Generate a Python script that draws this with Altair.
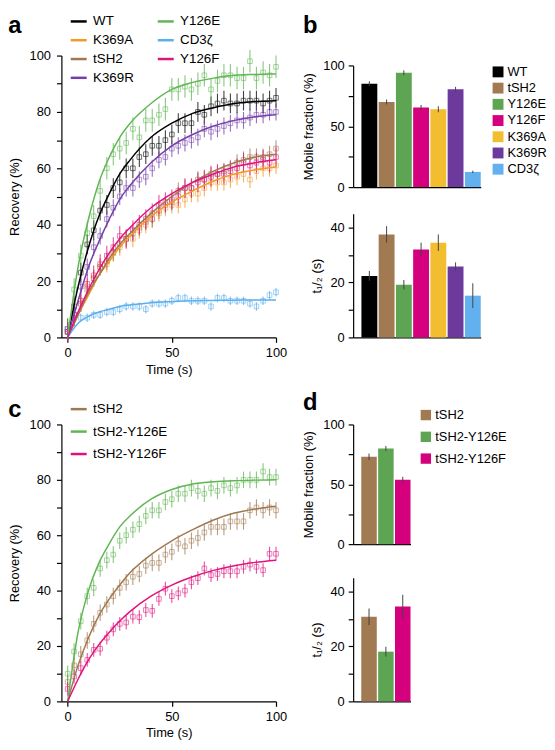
import altair as alt
import pandas as pd

FONT = "Liberation Sans"
FS = 13

# ---------------- shared time axis (s) ----------------
times = [0, 3.1, 6.3, 9.4, 12.5, 15.6, 18.8, 21.9, 25, 28.1, 31.3, 34.4, 37.5, 40.6,
         43.8, 46.9, 50, 53.1, 56.3, 59.4, 62.5, 65.6, 68.8, 71.9, 75, 78.1, 81.3,
         84.4, 87.5, 90.6, 93.8, 96.9, 100]
fit_times = [0, 5, 10, 15, 20, 25, 30, 40, 50, 60, 70, 80, 90, 100]

# ---------------- panel a ----------------
# legend fills column by column: WT, K369A, tSH2, K369R | Y126E, CD3ζ, Y126F
a_names = ["WT", "K369A", "tSH2", "K369R", "Y126E", "CD3ζ", "Y126F"]
a_colors = ["#000000", "#F39A26", "#A07850", "#7440A8", "#5FB652", "#5AAFEE", "#E0137E"]
a_points = {
    "WT":    [3, 11, 23, 33, 38, 45, 47, 53, 55, 60, 60, 64, 65, 68, 68, 70, 72, 76, 76, 76,
              80, 79, 82, 83, 84, 83, 83, 84, 84, 84, 83, 84, 85],
    "Y126E": [3, 17, 29, 37, 43, 52, 60, 65, 67, 69, 74, 71, 77, 77, 79, 81, 88, 88, 89, 88,
              90, 93, 88, 91, 93, 93, 92, 92, 98, 92, 94, 93, 96],
    "K369A": [2, 7, 12, 18, 21, 25, 26, 30, 32, 35, 35, 38, 40, 42, 44, 46, 47, 47, 49, 51,
              51, 53, 55, 55, 55, 56, 57, 58, 56, 59, 60, 60, 61],
    "CD3ζ":  [3, 8, 7, 7, 8, 8, 9, 9, 10, 11, 11, 11, 10, 12, 12, 12, 13, 14, 14, 13,
              13, 13, 11, 14, 14, 13, 13, 13, 12, 11, 13, 15, 16],
    "tSH2":  [2, 7, 12, 17, 21, 25, 27, 30, 33, 35, 37, 39, 41, 42, 45, 47, 48, 52, 53, 53,
              56, 56, 58, 58, 59, 60, 62, 63, 64, 64, 64, 65, 67],
    "Y126F": [2, 8, 13, 19, 22, 26, 29, 32, 36, 35, 38, 40, 42, 44, 47, 48, 49, 50, 53, 53,
              55, 56, 57, 58, 58, 59, 60, 62, 61, 62, 63, 62, 64],
    "K369R": [2, 8, 18, 25, 32, 36, 42, 46, 50, 53, 53, 56, 57, 60, 63, 64, 67, 68, 69, 70,
              71, 74, 73, 74, 75, 76, 77, 77, 78, 79, 79, 80, 80],
}
a_errs = {"WT": 3.5, "Y126E": 4, "K369A": 3, "CD3ζ": 1.5, "tSH2": 3, "Y126F": 3.5, "K369R": 3}
a_fits = {
    "WT":    [0, 18, 32, 43, 51, 58, 63, 71, 76, 79.5, 81.5, 83, 83.7, 84],
    "Y126E": [0, 25, 42, 55, 64, 71, 76, 83, 88, 90.5, 92, 93, 93.3, 93.5],
    "K369A": [0, 8, 15, 22, 27, 32, 36, 43, 48, 52, 55.5, 58, 59.5, 60.5],
    "CD3ζ":  [0, 5, 7.5, 9, 10, 11, 11.5, 12.3, 12.7, 13, 13.1, 13.2, 13.3, 13.3],
    "tSH2":  [0, 8, 16, 22, 28, 33, 37, 44, 50, 55, 59, 62, 64, 65],
    "Y126F": [0, 9, 17, 24, 30, 35, 39, 46, 51, 55, 58, 60.5, 62, 63],
    "K369R": [0, 13, 25, 34, 42, 49, 54, 62, 68, 72, 75, 77, 78.3, 79],
}

# ---------------- panel b ----------------
b_names = ["WT", "tSH2", "Y126E", "Y126F", "K369A", "K369R", "CD3ζ"]
b_colors = ["#000000", "#A17A52", "#5DA553", "#D4007E", "#F2BD2E", "#6C3A9C", "#62B0EE"]
b_mobile = [85, 70, 94, 65.5, 64, 80.4, 12.5]
b_mobile_err = [2, 2, 2, 2, 2.5, 2, 1]
b_thalf = [22.4, 37.5, 19.2, 32, 34.5, 25.8, 15.2]
b_thalf_err = [1.8, 3, 1.7, 2.5, 3, 1.5, 4.5]

# ---------------- panel c ----------------
c_names = ["tSH2", "tSH2-Y126E", "tSH2-Y126F"]
c_colors = ["#A07850", "#5FB652", "#E0137E"]
c_points = {
    "tSH2":       [7, 13, 17, 22, 28, 32, 35, 38, 41, 43, 45, 46, 49, 50, 50, 53, 54, 57, 56, 58,
                   59, 61, 63, 63, 63, 65, 65, 65, 69, 70, 69, 70, 69],
    "tSH2-Y126E": [10, 18, 29, 38, 41, 48, 51, 53, 58, 60, 62, 64, 67, 69, 69, 72, 73, 75, 75, 77,
                   76, 75, 77, 76, 78, 77, 78, 80, 80, 80, 83, 81, 81],
    "tSH2-Y126F": [4.5, 9, 12, 15, 18.6, 19, 23, 26, 28, 28.5, 30.6, 30.4, 33, 32.7, 37, 40.7, 38,
                   39, 40, 43, 44.5, 48, 45.6, 46, 47, 47, 47, 48.6, 49.4, 48.6, 47.4, 53.3, 53.3],
}
c_errs = {"tSH2": 3, "tSH2-Y126E": 3, "tSH2-Y126F": 2.5}
c_fits = {
    "tSH2":       [0, 13, 23, 31, 37, 42, 46.5, 53, 58, 62, 65.5, 68, 69.5, 70.5],
    "tSH2-Y126E": [0, 25, 40, 50, 57, 63, 67, 73, 76.5, 78.5, 79.3, 79.7, 79.9, 80],
    "tSH2-Y126F": [0, 8, 15, 20.5, 25, 29, 32.5, 38, 42, 45, 47.3, 49, 50.2, 51],
}

# ---------------- panel d ----------------
d_names = ["tSH2", "tSH2-Y126E", "tSH2-Y126F"]
d_colors = ["#A17A52", "#5DA553", "#D4007E"]
d_mobile = [73, 80, 53.7]
d_mobile_err = [2.7, 2, 2.5]
d_thalf = [30.8, 18.1, 34.5]
d_thalf_err = [3, 1.8, 4.3]


def panel_title(letter, offset):
    return alt.Title(letter, anchor="start", frame="bounds", fontSize=24, fontWeight="bold",
                     font=FONT, color="black", offset=offset)


def recovery_chart(names, colors, pts, errs, fits, height, legend, title):
    rows = []
    for n in names:
        for t, v in zip(times, pts[n]):
            rows.append({"series": n, "t": t, "v": v, "lo": v - errs[n], "hi": v + errs[n]})
    dfp = pd.DataFrame(rows)
    dff = pd.DataFrame([{"series": n, "t": t, "v": v}
                        for n in names for t, v in zip(fit_times, fits[n])])
    xsc = alt.Scale(domain=[-3, 100], nice=False, zero=False)
    ysc = alt.Scale(domain=[0, 100], nice=False)
    xax = alt.Axis(values=[0, 50, 100], title="Time (s)", labelPadding=4, titlePadding=4,
                   labelFlush=False)
    yax = alt.Axis(values=list(range(0, 101, 10)),
                   labelExpr="datum.value % 20 == 0 ? datum.label : ''",
                   title="Recovery (%)", titlePadding=8, labelPadding=6, labelFlush=False)
    X = alt.X("t:Q", scale=xsc, axis=xax)
    Y = alt.Y("v:Q", scale=ysc, axis=yax)
    cs = alt.Scale(domain=names, range=colors)
    p = alt.Chart(dfp).mark_point(shape="square", filled=False, size=22, strokeWidth=1,
                                  opacity=0.55).encode(
        x=X, y=Y, color=alt.Color("series:N", scale=cs, legend=None))
    e = alt.Chart(dfp).mark_rule(strokeWidth=1.1, opacity=0.75).encode(
        x=X, y=alt.Y("lo:Q", scale=ysc, axis=yax), y2="hi:Q",
        color=alt.Color("series:N", scale=cs, legend=None))
    ln = alt.Chart(dff).mark_line(strokeWidth=1.5, interpolate="monotone").encode(
        x=X, y=Y, color=alt.Color("series:N", scale=cs, legend=legend))
    return alt.layer(p, e, ln).resolve_scale(color="independent").properties(
        width=217, height=height, title=title)


def bar_chart(names, colors, vals, errs, ymax, tick_vals, label_mod, ytitle, height, width,
              legend):
    df = pd.DataFrame({"cat": names, "val": vals,
                       "lo": [v - e for v, e in zip(vals, errs)],
                       "hi": [v + e for v, e in zip(vals, errs)]})
    X = alt.X("cat:N", sort=names,
              scale=alt.Scale(paddingInner=0.08, paddingOuter=0.24, align=1),
              axis=alt.Axis(labels=False, ticks=False, title=None))
    ysc = alt.Scale(domain=[0, ymax], nice=False)
    yax = alt.Axis(values=tick_vals,
                   labelExpr="datum.value %% %d == 0 ? datum.label : ''" % label_mod,
                   title=ytitle, titlePadding=7, labelPadding=4, labelFlush=False)
    bars = alt.Chart(df).mark_bar().encode(
        x=X, y=alt.Y("val:Q", scale=ysc, axis=yax),
        color=alt.Color("cat:N", scale=alt.Scale(domain=names, range=colors), sort=names,
                        legend=legend))
    err = alt.Chart(df).mark_rule(color="#444444", strokeWidth=1).encode(
        x=X, y=alt.Y("lo:Q", scale=ysc, axis=yax), y2="hi:Q")
    return alt.layer(bars, err).properties(width=width, height=height)


def spacer():
    return alt.Chart(pd.DataFrame({"s": [0]})).mark_point(opacity=0).encode(
        x=alt.X("s:Q", axis=None), y=alt.Y("s:Q", axis=None)).properties(width=1, height=1)


leg_a = alt.Legend(title=None, orient="none", legendX=8, legendY=-44, columns=2,
                   direction="vertical", symbolType="stroke", symbolStrokeWidth=2.5,
                   symbolSize=260, symbolOpacity=1, labelFontSize=13.5, rowPadding=3,
                   columnPadding=18, labelOffset=5)
leg_c = alt.Legend(title=None, orient="none", legendX=8, legendY=-25, direction="vertical",
                   symbolType="stroke", symbolStrokeWidth=2.5, symbolSize=260,
                   symbolOpacity=1, labelFontSize=13.5, rowPadding=6.7, labelOffset=5)
leg_b = alt.Legend(title=None, orient="right", offset=11, symbolType="square",
                   symbolSize=121, symbolOpacity=1, symbolStrokeWidth=0,
                   labelFontSize=FS, rowPadding=2.4, labelOffset=3)
leg_d = alt.Legend(title=None, orient="none", legendX=67, legendY=-16, direction="vertical",
                   symbolType="square", symbolSize=110, symbolOpacity=1, symbolStrokeWidth=0,
                   labelFontSize=FS, rowPadding=8, labelOffset=3)

pa = recovery_chart(a_names, a_colors, a_points, a_errs, a_fits, 285, leg_a,
                    panel_title("a", -26))
pc = recovery_chart(c_names, c_colors, c_points, c_errs, c_fits, 280, leg_c,
                    panel_title("c", -22))

b_top = bar_chart(b_names, b_colors, b_mobile, b_mobile_err, 100, [0, 25, 50, 75, 100], 50,
                  "Mobile fraction (%)", 123, 129, leg_b)
b_bot = bar_chart(b_names, b_colors, b_thalf, b_thalf_err, 45, [0, 10, 20, 30, 40], 20,
                  "t₁/₂ (s)", 125, 129, None)
b_inner = alt.vconcat(b_top, b_bot, spacing=20).resolve_scale(color="independent")
pb = alt.vconcat(spacer(), b_inner, spacing=0, title=panel_title("b", 16)).resolve_scale(
    color="independent")

d_top = bar_chart(d_names, d_colors, d_mobile, d_mobile_err, 100, [0, 25, 50, 75, 100], 50,
                  "Mobile fraction (%)", 121, 58, leg_d)
d_bot = bar_chart(d_names, d_colors, d_thalf, d_thalf_err, 45, [0, 10, 20, 30, 40], 20,
                  "t₁/₂ (s)", 125, 58, None)
pd_ = alt.vconcat(d_top, d_bot, spacing=27, title=panel_title("d", -6)).resolve_scale(
    color="independent")

row1 = alt.hconcat(pa, pb, spacing=16).resolve_scale(color="independent")
row2 = alt.hconcat(pc, pd_, spacing=16).resolve_scale(color="independent")

chart = alt.vconcat(row1, row2, spacing=15).resolve_scale(color="independent").properties(
    padding={"left": 0, "top": 0, "right": 0, "bottom": 0})

chart = chart.configure(font=FONT).configure_view(stroke=None).configure_axis(
    domainColor="black", tickColor="black", labelColor="black", titleColor="black",
    labelFontSize=FS, titleFontSize=FS, titleFontWeight="normal", tickSize=5, grid=False,
    labelFont=FONT, titleFont=FONT, domainWidth=1.2, tickWidth=1.2
).configure_legend(labelFont=FONT, labelFontSize=FS, labelColor="black")

chart.save("out.html", embed_options={"renderer": "svg", "actions": False})
